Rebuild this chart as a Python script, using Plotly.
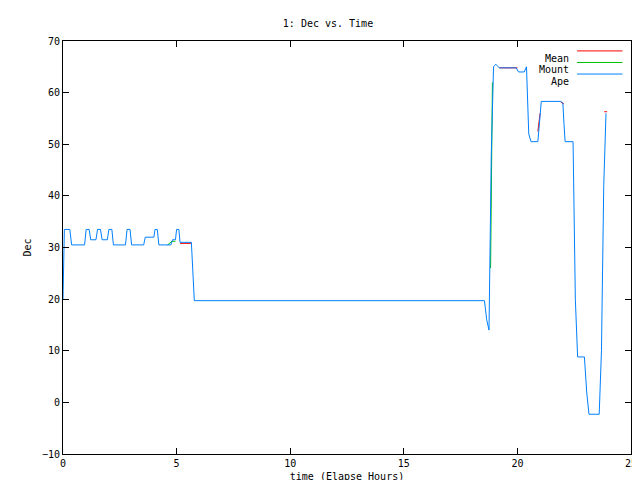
import plotly.graph_objects as go

ape_t = [0, 0.03, 0.06, 0.3, 0.38, 0.95, 1.02, 1.15, 1.22, 1.45, 1.52, 1.65, 1.72, 1.95, 2.02, 2.15, 2.22, 2.75, 2.82, 2.95, 3.02, 3.55, 3.62, 4.0, 4.05, 4.15, 4.22, 4.75, 4.82, 4.95, 5.0, 5.1, 5.15, 5.65, 5.7, 5.78,
         18.55, 18.65, 18.75, 18.85, 18.95, 19.05, 19.2, 19.95, 20.05, 20.3, 20.4, 20.5, 20.6, 20.9, 20.95, 21.05, 21.9, 22.0, 22.05, 22.1, 22.45, 22.55, 22.65, 22.95, 23.05, 23.15, 23.6, 23.7, 23.8, 23.9]
ape_v = [20, 33.5, 33.5, 33.5, 30.5, 30.5, 33.5, 33.5, 31.5, 31.5, 33.5, 33.5, 31.5, 31.5, 33.5, 33.5, 30.5, 30.5, 33.5, 33.5, 30.5, 30.5, 32, 32, 33.5, 33.5, 30.5, 30.5, 31.5, 31.5, 33.5, 33.5, 31, 31, 27, 19.7,
         19.7, 16, 14, 48, 65, 65.5, 64.8, 64.8, 64, 64, 65, 52, 50.5, 50.5, 53, 58.3, 58.3, 58, 54, 50.5, 50.5, 20, 8.8, 8.8, 2, -2.3, -2.3, 10, 42, 56]

# Mean / Mount visible segments (None separates segments)
mean_t = [5.15, 5.65, None, 19.2, 20.0, None, 20.9, 21.0, None, 21.9, 22.05, None, 23.82, 23.95]
mean_v = [30.8, 30.8, None, 64.8, 64.8, None, 52.5, 56, None, 58.2, 57.8, None, 56.3, 56.3]

mount_t = [4.6, 4.8, 4.95, None, 18.82, 18.86, 18.9]
mount_v = [30.5, 31.2, 31.2, None, 26, 45, 62]

font = dict(family="DejaVu Sans Mono, Liberation Mono, monospace", size=10, color="black")
fig = go.Figure()
fig.add_trace(go.Scatter(x=mean_t, y=mean_v, mode="lines", line=dict(color="#ff0000", width=1), name="Mean", connectgaps=False))
fig.add_trace(go.Scatter(x=mount_t, y=mount_v, mode="lines", line=dict(color="#00c000", width=1), name="Mount", connectgaps=False))
fig.add_trace(go.Scatter(x=ape_t, y=ape_v, mode="lines", line=dict(color="#0080ff", width=1), name="Ape"))

names = ["Mean", "Mount", "Ape"]
colors = ["#ff0000", "#00c000", "#0080ff"]
shapes, annos = [], []
for i, (n, c) in enumerate(zip(names, colors)):
    yp = 0.976 - i * 0.028
    annos.append(dict(x=0.895, y=yp, xref="paper", yref="paper", text=n, showarrow=False, xanchor="right", font=font))
    shapes.append(dict(type="line", xref="paper", yref="paper", x0=0.905, x1=0.985, y0=yp, y1=yp, line=dict(color=c, width=1)))

fig.update_layout(
    width=640, height=480, showlegend=False, plot_bgcolor="white", paper_bgcolor="white",
    margin=dict(l=55, r=17, t=33, b=34), font=font,
    title=dict(text="1: Dec vs. Time", x=0.5, y=0.975, xanchor="center", font=font),
    shapes=shapes, annotations=annos,
)
axis = dict(showgrid=False, zeroline=False, showline=True, mirror="ticks", linecolor="black", linewidth=1,
            ticks="inside", ticklen=6, tickcolor="black", tickfont=font, automargin=False)
fig.update_xaxes(range=[0, 25], dtick=5, title=dict(text="time (Elapse Hours)", font=font, standoff=4), **axis)
fig.update_yaxes(range=[-10, 70], dtick=10, title=dict(text="Dec", font=font, standoff=8), **axis)
fig.write_html("out.html")
